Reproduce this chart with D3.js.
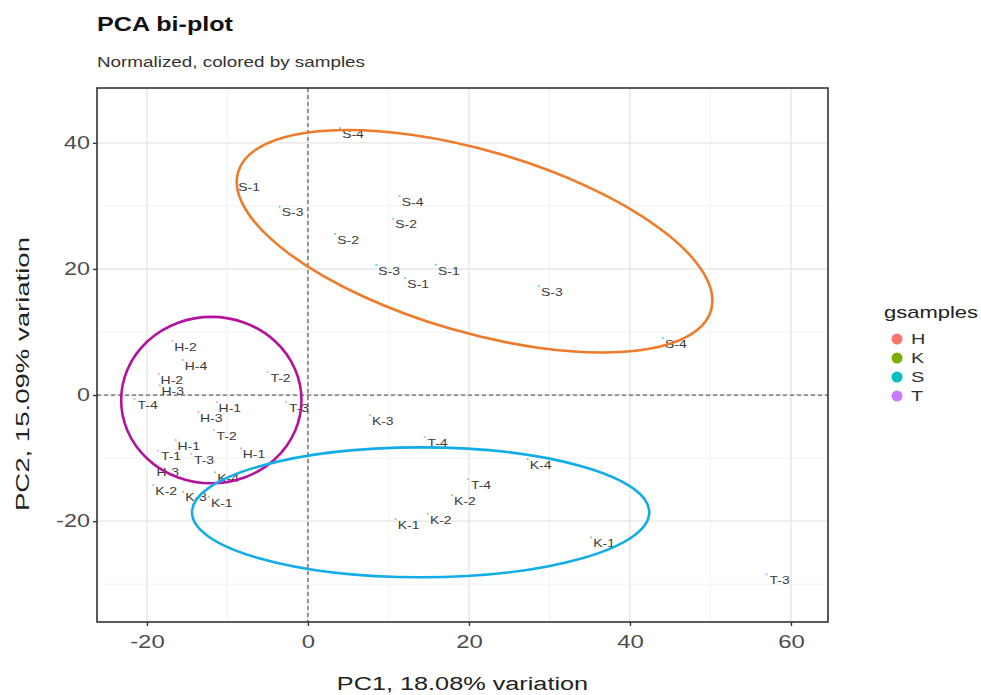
<!DOCTYPE html>
<html>
<head>
<meta charset="utf-8">
<script src="https://cdn.jsdelivr.net/npm/d3@7"></script>
<style>
body { margin: 0; background: #fff; }
text { font-family: "Liberation Sans", Arial, sans-serif; }
.wl { transform-box: fill-box; transform: scaleX(1.33); transform-origin: left center; }
.wm { transform-box: fill-box; transform: scaleX(1.33); transform-origin: center center; }
.wr { transform-box: fill-box; transform: scaleX(1.3); transform-origin: right center; }
</style>
</head>
<body>
<script>
// sample labels, groups and PC coordinates
var labels = ["S-4","S-1","S-3","S-4","S-2","S-2","S-3","S-1","S-1","S-3","S-4",
              "H-2","H-4","H-2","H-3","H-1","H-3","H-1","H-1","H-3",
              "K-4","K-2","K-3","K-1","K-3","K-4","K-2","K-2","K-1","K-1",
              "T-2","T-4","T-3","T-2","T-1","T-3","T-4","T-4","T-3"];
var groups = ["S","S","S","S","S","S","S","S","S","S","S",
              "H","H","H","H","H","H","H","H","H",
              "K","K","K","K","K","K","K","K","K","K",
              "T","T","T","T","T","T","T","T","T"];
var pc1 = [5.6,-7.3,-1.9,13.0,12.2,5.0,10.1,17.5,13.7,30.3,45.7,
           -15.2,-13.9,-16.9,-16.8,-9.7,-12.0,-14.8,-6.7,-17.4,
           -9.9,-17.6,-13.9,-10.7,9.3,28.9,19.5,16.5,12.5,36.8,
           -3.4,-19.9,-1.1,-10.1,-17.0,-12.9,16.1,21.5,58.6];
var pc2 = [41.4,33.0,28.9,30.6,27.0,24.6,19.7,19.7,17.6,16.3,8.1,
           7.6,4.6,2.4,0.6,-2.1,-3.7,-8.1,-9.4,-12.2,
           -13.2,-15.2,-16.3,-17.1,-4.1,-11.1,-16.8,-19.8,-20.6,-23.5,
           2.7,-1.6,-2.1,-6.5,-9.8,-10.3,-7.6,-14.3,-29.4];

var legendKeys = ["H","K","S","T"];
var legendColors = ["#F8766D","#7CAE00","#00BFC4","#C77CFF"];

var xTicks = [-20, 0, 20, 40, 60];
var yTicks = [-20, 0, 20, 40];
var xMinor = [-10, 10, 30, 50];
var yMinor = [-30, -10, 10, 30];

// hand drawn ellipses: centre (PC1, PC2), radii in PC units, tilt in degrees
var ellCx = [20.7, -12.0, 14.0];
var ellCy = [24.4, -0.8, -18.6];
var ellRx = [30.6, 11.2, 28.4];
var ellRy = [14.4, 13.2, 10.3];
var ellTilt = [16.3, 0, 0];
var ellColor = ["#EF7B2A", "#B3139C", "#12ADE8"];

var width = 981,
    height = 695,
    marginLeft = 97,
    marginRight = 153,
    marginTop = 88,
    marginBottom = 73
;

var svg = d3.select("body").append("svg")
    .attr("width", width)
    .attr("height", height)
;

var x = d3.scaleLinear()
    .domain([-26.2, 64.6])
    .range([marginLeft, width - marginRight])
;
var y = d3.scaleLinear()
    .domain([-36.0, 48.7])
    .range([height - marginBottom, marginTop])
;

var color = d3.scaleOrdinal()
    .domain(legendKeys)
    .range(legendColors)
;

// grid
var grid = svg.append("g");
xMinor.forEach(function(v) {
    grid.append("line")
        .attr("x1", x(v)).attr("x2", x(v))
        .attr("y1", marginTop).attr("y2", height - marginBottom)
        .attr("stroke", "#f0f0f0").attr("stroke-width", 0.8);
});
yMinor.forEach(function(v) {
    grid.append("line")
        .attr("y1", y(v)).attr("y2", y(v))
        .attr("x1", marginLeft).attr("x2", width - marginRight)
        .attr("stroke", "#f0f0f0").attr("stroke-width", 0.8);
});
xTicks.forEach(function(v) {
    grid.append("line")
        .attr("x1", x(v)).attr("x2", x(v))
        .attr("y1", marginTop).attr("y2", height - marginBottom)
        .attr("stroke", "#e6e6e6").attr("stroke-width", 1.4);
});
yTicks.forEach(function(v) {
    grid.append("line")
        .attr("y1", y(v)).attr("y2", y(v))
        .attr("x1", marginLeft).attr("x2", width - marginRight)
        .attr("stroke", "#e6e6e6").attr("stroke-width", 1.4);
});

// zero lines
svg.append("line")
    .attr("x1", x(0)).attr("x2", x(0))
    .attr("y1", marginTop).attr("y2", height - marginBottom)
    .attr("stroke", "#666").attr("stroke-width", 1.3).attr("stroke-dasharray", "4,3");
svg.append("line")
    .attr("y1", y(0)).attr("y2", y(0))
    .attr("x1", marginLeft).attr("x2", width - marginRight)
    .attr("stroke", "#666").attr("stroke-width", 1.3).attr("stroke-dasharray", "4,3");

// points and labels
var idx = d3.range(labels.length);
svg.append("g").selectAll("circle")
    .data(idx)
    .join("circle")
    .attr("cx", function(i) { return x(pc1[i]) - 13; })
    .attr("cy", function(i) { return y(pc2[i]) - 6; })
    .attr("r", 1)
    .attr("fill", function(i) { return color(groups[i]); })
    .attr("opacity", 0.7)
;
svg.append("g").selectAll("text")
    .data(idx)
    .join("text")
    .attr("class", "wm")
    .attr("x", function(i) { return x(pc1[i]); })
    .attr("y", function(i) { return y(pc2[i]); })
    .attr("dy", "0.35em")
    .attr("text-anchor", "middle")
    .attr("font-size", 10.5)
    .attr("fill", "#3a3a3a")
    .text(function(i) { return labels[i]; })
;

// panel border
svg.append("rect")
    .attr("x", marginLeft)
    .attr("y", marginTop)
    .attr("width", width - marginLeft - marginRight)
    .attr("height", height - marginTop - marginBottom)
    .attr("fill", "none")
    .attr("stroke", "#333")
    .attr("stroke-width", 1.6)
;

// axes
var xAxis = d3.axisBottom(x).tickValues(xTicks).tickSize(4).tickPadding(9);
var yAxis = d3.axisLeft(y).tickValues(yTicks).tickSize(4).tickPadding(3);

var gx = svg.append("g")
    .attr("transform", `translate(0,${height - marginBottom})`)
    .call(xAxis);
var gy = svg.append("g")
    .attr("transform", `translate(${marginLeft},0)`)
    .call(yAxis);
[gx, gy].forEach(function(g) {
    g.select(".domain").remove();
    g.selectAll(".tick line").attr("stroke", "#333").attr("stroke-width", 1.4);
    g.selectAll(".tick text")
        .attr("fill", "#4d4d4d")
        .attr("font-size", 18)
        .attr("font-family", "Liberation Sans, Arial, sans-serif")
        .text(function(d) { return d < 0 ? "-" + Math.abs(d) : d; });
});
gx.selectAll(".tick text").attr("class", "wm");
gy.selectAll(".tick text").attr("class", "wr");

// axis titles
svg.append("text")
    .attr("class", "wm")
    .attr("x", (marginLeft + width - marginRight) / 2)
    .attr("y", 690)
    .attr("text-anchor", "middle")
    .attr("font-size", 19)
    .attr("fill", "#222")
    .text("PC1, 18.08% variation");
svg.append("text")
    .attr("transform", "translate(29,374) rotate(-90)")
    .attr("text-anchor", "middle")
    .attr("font-size", 19)
    .attr("fill", "#222")
    .attr("textLength", 274)
    .attr("lengthAdjust", "spacingAndGlyphs")
    .text("PC2, 15.09% variation");

// title
svg.append("text")
    .attr("x", 97).attr("y", 31)
    .attr("font-size", 20).attr("font-weight", "bold").attr("fill", "#111")
    .attr("textLength", 136).attr("lengthAdjust", "spacingAndGlyphs")
    .text("PCA bi-plot");
svg.append("text")
    .attr("x", 97).attr("y", 67)
    .attr("font-size", 14).attr("fill", "#333")
    .attr("textLength", 268).attr("lengthAdjust", "spacingAndGlyphs")
    .text("Normalized, colored by samples");

// legend
var legend = svg.append("g").attr("transform", "translate(884,0)");
legend.append("text")
    .attr("x", 0).attr("y", 318)
    .attr("font-size", 17).attr("fill", "#222")
    .attr("textLength", 94).attr("lengthAdjust", "spacingAndGlyphs")
    .text("gsamples");
legendKeys.forEach(function(k, i) {
    legend.append("circle")
        .attr("cx", 13).attr("cy", 339 + i * 19)
        .attr("r", 5.5)
        .attr("fill", color(k));
    legend.append("text")
        .attr("class", "wl")
        .attr("x", 27).attr("y", 339 + i * 19)
        .attr("dy", "0.36em")
        .attr("font-size", 15).attr("fill", "#333")
        .text(k);
});

// ellipses
var sx = x(1) - x(0), sy = y(0) - y(1);
ellCx.forEach(function(c, i) {
    svg.append("ellipse")
        .attr("cx", x(c))
        .attr("cy", y(ellCy[i]))
        .attr("rx", ellRx[i] * sx)
        .attr("ry", ellRy[i] * sy)
        .attr("transform", `rotate(${ellTilt[i]},${x(c)},${y(ellCy[i])})`)
        .attr("fill", "none")
        .attr("stroke", ellColor[i])
        .attr("stroke-width", 2.6);
});
</script>
</body>
</html>
